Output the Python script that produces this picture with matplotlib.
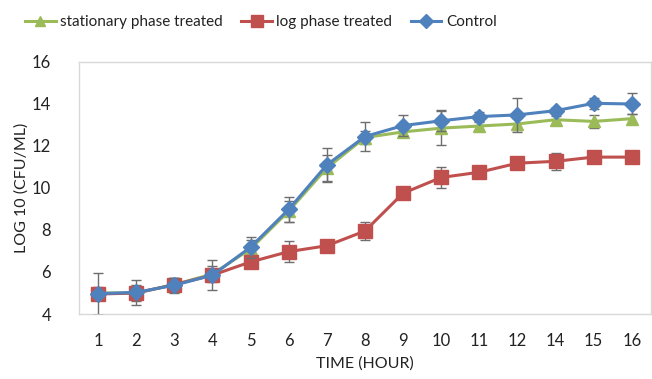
import matplotlib
matplotlib.use("Agg")
import matplotlib.pyplot as plt
from matplotlib.lines import Line2D
import numpy as np

plt.rcParams['font.family'] = ['Lato', 'DejaVu Sans']

hours = ["1", "2", "3", "4", "5", "6", "7", "8", "9", "10", "11", "12", "14", "15", "16"]

stationary = [5.0, 5.0, 5.4, 5.9, 7.1, 8.9, 10.95, 12.4, 12.67, 12.85, 12.95, 13.05, 13.25, 13.17, 13.3]
stationary_err = [0.3, 0.4, 0.3, 0.4, 0.4, 0.5, 0.6, 0.3, 0.2, 0.8, 0.2, 0.3, 0.2, 0.3, 0.2]

log_phase = [4.95, 5.0, 5.4, 5.85, 6.48, 6.97, 7.25, 7.95, 9.75, 10.5, 10.75, 11.18, 11.27, 11.47, 11.47]
log_err = [0.3, 0.3, 0.3, 0.3, 0.1, 0.5, 0.15, 0.45, 0.05, 0.5, 0.1, 0.1, 0.4, 0.3, 0.05]

control = [4.97, 5.03, 5.37, 5.85, 7.18, 8.98, 11.1, 12.45, 12.97, 13.2, 13.4, 13.48, 13.68, 14.03, 14.0]
control_err = [1.0, 0.6, 0.35, 0.7, 0.5, 0.6, 0.8, 0.7, 0.5, 0.5, 0.2, 0.8, 0.15, 0.25, 0.5]

series = [
    ("stationary phase treated", stationary, stationary_err, '#9BBB59', '^', 9),
    ("log phase treated", log_phase, log_err, '#C0504D', 's', 10),
    ("Control", control, control_err, '#4F81BD', 'D', 8),
]

fig = plt.figure(figsize=(6.52, 3.79), dpi=100)
ax = fig.add_axes([0.1212, 0.1715, 0.877, 0.665])

x = np.arange(len(hours))
err_kw = dict(ecolor='#6e6e6e', elinewidth=1.0, capsize=3.5, capthick=1.0)

handles = []
for i, (name, vals, errs, col, mk, ms) in enumerate(series):
    ax.errorbar(x, vals, yerr=errs, color=col, lw=2.2, marker=mk, ms=ms,
                zorder=3 + i, **err_kw)
    handles.append(Line2D([], [], color=col, lw=2.2, marker=mk, ms=ms * 0.85, label=name))

ax.set_xlim(-0.5, len(hours) - 0.5)
ax.set_ylim(4, 16)
ax.set_yticks([4, 6, 8, 10, 12, 14, 16])
ax.set_xticks(x)
ax.set_xticklabels(hours)
ax.tick_params(axis='both', length=0, labelsize=12, colors='#222222')
ax.tick_params(axis='x', pad=14)
ax.tick_params(axis='y', pad=20)
for s in ax.spines.values():
    s.set_color('#d9d9d9')
    s.set_linewidth(1.0)

ax.set_xlabel('TIME (HOUR)', fontsize=11.5, color='#222222', labelpad=5)
ax.set_ylabel('LOG 10 (CFU/ML)', fontsize=11.5, color='#222222')
ax.yaxis.set_label_coords(-0.088, 0.5)

fig.legend(handles=handles, loc='center', bbox_to_anchor=(0.40, 0.942), ncol=3,
           frameon=False, fontsize=11, handlelength=2.0, columnspacing=1.2,
           handletextpad=0.3, labelcolor='#222222')

fig.savefig('out.png', dpi=100)
